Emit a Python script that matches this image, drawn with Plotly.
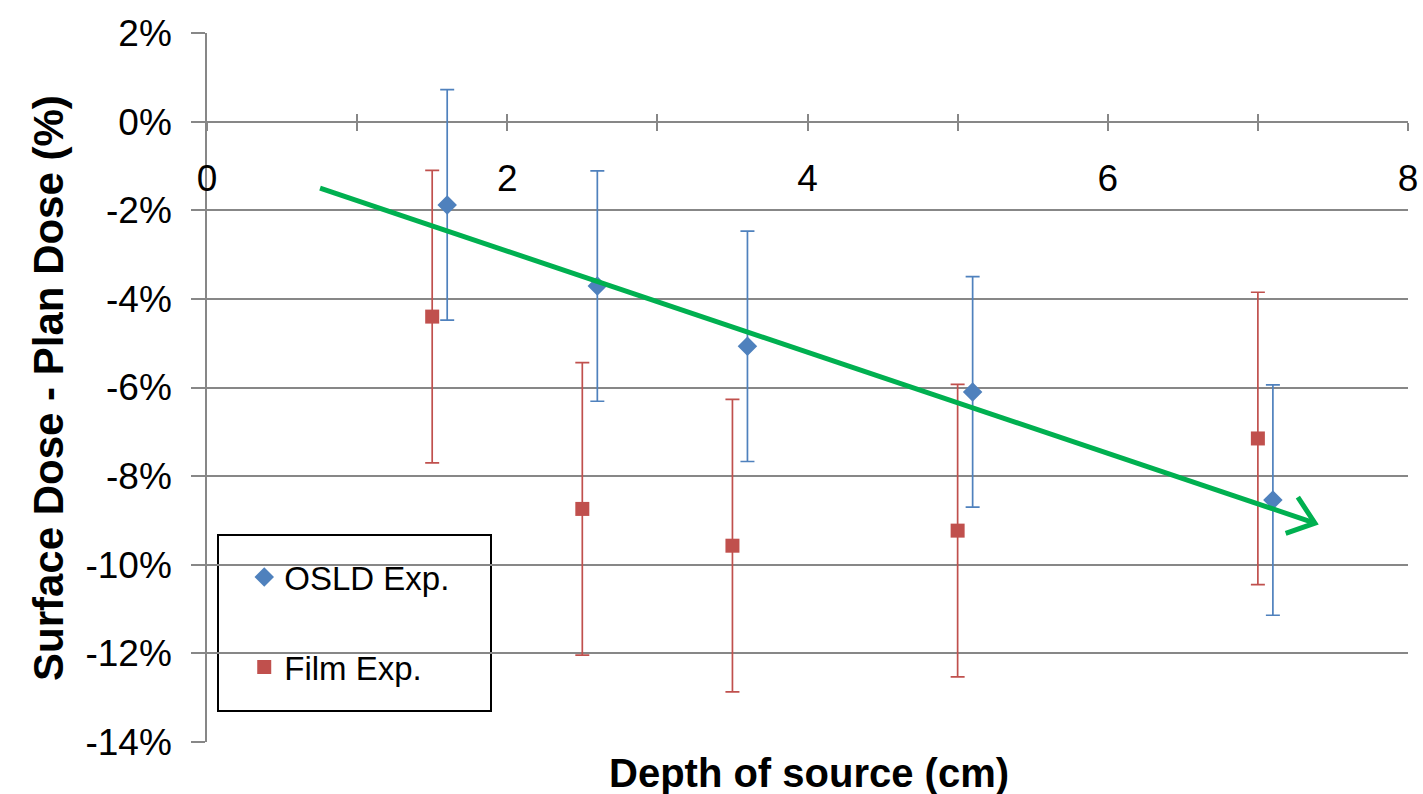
import math
import plotly.graph_objects as go

# ---- data ----
osld_depth = [1.6, 2.6, 3.6, 5.1, 7.1]
osld_diff = [-1.88, -3.71, -5.07, -6.10, -8.54]
osld_err = [2.6, 2.6, 2.6, 2.6, 2.6]

film_depth = [1.5, 2.5, 3.5, 5.0, 7.0]
film_diff = [-4.40, -8.74, -9.57, -9.23, -7.15]
film_err = [3.3, 3.3, 3.3, 3.3, 3.3]

trend_start = (0.753, -1.50)
trend_end = (7.38, -9.06)

x_range = [0, 8]
y_range = [-14, 2]
x_tickvals = [0, 1, 2, 3, 4, 5, 6, 7, 8]
x_ticktext = ["0", "", "2", "", "4", "", "6", "", "8"]
y_tickvals = [2, 0, -2, -4, -6, -8, -10, -12, -14]
y_ticktext = ["2%", "0%", "-2%", "-4%", "-6%", "-8%", "-10%", "-12%", "-14%"]

BLUE = "#4F81BD"
RED = "#C0504D"
GREEN = "#00B050"
GRID = "#878787"
FONT = "Liberation Sans, Arial, sans-serif"

W, H = 1423, 794
ML, MR, MT, MB = 207, 15, 33, 52
PW, PH = W - ML - MR, H - MT - MB

fig = go.Figure()

fig.add_trace(go.Scatter(
    x=osld_depth, y=osld_diff, mode="markers", name="OSLD Exp.",
    legendgroup="a",
    marker=dict(symbol="diamond", size=15, color=BLUE),
    error_y=dict(type="data", array=osld_err, visible=True, color=BLUE,
                 thickness=1.7, width=7),
))
fig.add_trace(go.Scatter(
    x=film_depth, y=film_diff, mode="markers", name="Film Exp.",
    legendgroup="b",
    marker=dict(symbol="square", size=14, color=RED),
    error_y=dict(type="data", array=film_err, visible=True, color=RED,
                 thickness=1.7, width=7),
))

# trend arrow (shaft)
fig.add_trace(go.Scatter(
    x=[trend_start[0], trend_end[0]], y=[trend_start[1], trend_end[1]],
    mode="lines", line=dict(color=GREEN, width=5), showlegend=False,
    hoverinfo="skip",
))
# arrow head (open chevron) computed in pixel space
pxx = PW / (x_range[1] - x_range[0])
pxy = PH / (y_range[1] - y_range[0])
dxp = (trend_end[0] - trend_start[0]) * pxx
dyp = (trend_end[1] - trend_start[1]) * pxy
ang = math.atan2(dyp, dxp)
L = 31
spread = math.radians(38)
hx, hy = [], []
for s in (spread, -spread):
    a = ang + math.pi + s
    hx.append(trend_end[0] + L * math.cos(a) / pxx)
    hy.append(trend_end[1] + L * math.sin(a) / pxy)
fig.add_trace(go.Scatter(
    x=[hx[0], trend_end[0], hx[1]], y=[hy[0], trend_end[1], hy[1]],
    mode="lines", line=dict(color=GREEN, width=5), showlegend=False,
    hoverinfo="skip",
))

# dummy trace for second x axis (inside ticks)
fig.add_trace(go.Scatter(x=[None], y=[None], xaxis="x2", showlegend=False,
                         hoverinfo="skip"))

zero_pos = (0 - y_range[0]) / (y_range[1] - y_range[0])

fig.update_layout(
    width=W, height=H,
    margin=dict(l=ML, r=MR, t=MT, b=MB, autoexpand=False),
    paper_bgcolor="white", plot_bgcolor="white",
    font=dict(family=FONT, color="black"),
    showlegend=True,
    legend=dict(
        x=0.031, y=0.272, xanchor="left", yanchor="top",
        bgcolor="rgba(0,0,0,0)", borderwidth=0,
        font=dict(size=33, family=FONT, color="black"),
        tracegroupgap=44, traceorder="grouped",
    ),
    xaxis=dict(
        range=x_range, anchor="free", position=zero_pos,
        tickvals=x_tickvals, ticktext=x_ticktext,
        ticks="outside", ticklen=8, tickwidth=1.5, tickcolor=GRID,
        showline=False, showgrid=False, zeroline=False, automargin=False,
        tickfont=dict(size=37, family=FONT, color="black"),
        ticklabelstandoff=16,
    ),
    xaxis2=dict(
        range=x_range, overlaying="x", anchor="free", position=zero_pos,
        tickvals=x_tickvals, ticks="inside", ticklen=8, tickwidth=1.5,
        tickcolor=GRID, showticklabels=False, showline=False,
        showgrid=False, zeroline=False, side="bottom", automargin=False,
    ),
    yaxis=dict(
        range=y_range, tickvals=y_tickvals, ticktext=y_ticktext,
        showgrid=True, gridcolor=GRID, gridwidth=1.6,
        showline=True, linecolor=GRID, linewidth=1.6,
        ticks="outside", ticklen=14, tickwidth=1.6, tickcolor=GRID,
        zeroline=False, automargin=False,
        tickfont=dict(size=37, family=FONT, color="black"),
        ticklabelstandoff=12,
    ),
    shapes=[dict(
        type="rect", xref="paper", yref="paper",
        x0=(218 - ML) / PW, x1=(491 - ML) / PW,
        y0=(H - MB - 711) / PH, y1=(H - MB - 535) / PH,
        line=dict(color="black", width=2), fillcolor="white", layer="below",
    )],
    annotations=[
        dict(text="<b>Depth of source (cm)</b>", xref="paper", yref="paper",
             x=(809 - ML) / PW, y=(H - MB - 773) / PH, showarrow=False,
             xanchor="center", yanchor="middle",
             font=dict(size=40, family=FONT, color="black")),
        dict(text="<b>Surface Dose - Plan Dose (%)</b>", xref="paper",
             yref="paper", x=(48 - ML) / PW, y=(H - MB - 388) / PH,
             showarrow=False, textangle=-90, xanchor="center",
             yanchor="middle",
             font=dict(size=42, family=FONT, color="black")),
    ],
)

fig.write_html(
    "out.html",
    config={"displayModeBar": False},
    post_script="document.body.style.margin='0';document.body.style.overflow='hidden';",
)
